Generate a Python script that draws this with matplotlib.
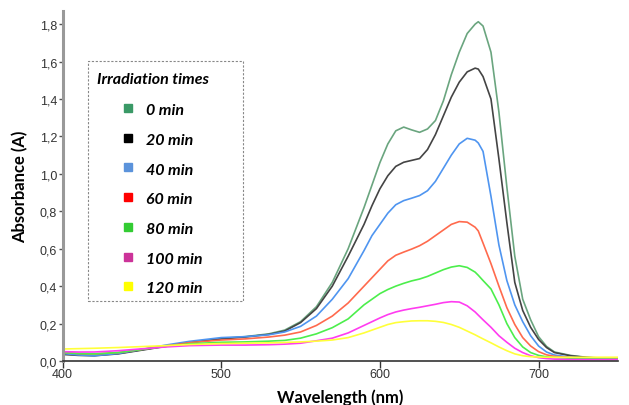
"""
UV-Vis absorbance spectra at increasing irradiation times
"""
import matplotlib
matplotlib.use("Agg")
import matplotlib.pyplot as plt
from matplotlib.ticker import FuncFormatter, MultipleLocator
from matplotlib.patches import Rectangle

# wavelength grid (nm) shared by all spectra
wavelength = [400, 410, 420, 435, 450, 465, 480, 500, 515, 530, 540, 550, 560, 570,
              580, 590, 595, 600, 605, 610, 615, 620, 625, 630, 635, 640, 645, 650,
              655, 660, 662, 665, 670, 675, 680, 685, 690, 695, 700, 705, 710, 720, 730,
              740, 750]

abs_0 = [0.040, 0.033, 0.030, 0.040, 0.060, 0.080, 0.100, 0.120, 0.130, 0.145, 0.165,
         0.210, 0.290, 0.420, 0.600, 0.820, 0.940, 1.060, 1.160, 1.230, 1.250, 1.235,
         1.222, 1.240, 1.285, 1.390, 1.530, 1.650, 1.750, 1.800, 1.813, 1.790, 1.650, 1.330,
         0.930, 0.560, 0.330, 0.220, 0.130, 0.078, 0.048, 0.030, 0.020, 0.015, 0.012]
abs_20 = [0.035, 0.030, 0.028, 0.038, 0.058, 0.078, 0.098, 0.118, 0.128, 0.142, 0.160,
          0.205, 0.280, 0.400, 0.560, 0.730, 0.830, 0.920, 0.990, 1.040, 1.062, 1.072,
          1.082, 1.130, 1.210, 1.310, 1.410, 1.490, 1.545, 1.565, 1.560, 1.520, 1.400, 1.080,
          0.740, 0.420, 0.270, 0.180, 0.115, 0.072, 0.045, 0.028, 0.019, 0.014, 0.012]
abs_40 = [0.040, 0.032, 0.028, 0.040, 0.062, 0.085, 0.105, 0.125, 0.130, 0.140, 0.155,
          0.185, 0.240, 0.330, 0.440, 0.590, 0.670, 0.730, 0.790, 0.835, 0.857, 0.870,
          0.884, 0.910, 0.960, 1.030, 1.100, 1.160, 1.190, 1.180, 1.165, 1.120, 0.880, 0.620,
          0.430, 0.300, 0.210, 0.135, 0.080, 0.048, 0.032, 0.020, 0.015, 0.012, 0.010]
abs_60 = [0.045, 0.040, 0.038, 0.045, 0.062, 0.080, 0.098, 0.112, 0.118, 0.128, 0.138,
          0.155, 0.190, 0.240, 0.310, 0.400, 0.445, 0.490, 0.535, 0.565, 0.582, 0.598,
          0.616, 0.640, 0.670, 0.700, 0.730, 0.745, 0.742, 0.715, 0.695, 0.630, 0.520, 0.400,
          0.285, 0.195, 0.125, 0.080, 0.050, 0.033, 0.025, 0.018, 0.014, 0.012, 0.010]
abs_80 = [0.045, 0.040, 0.038, 0.045, 0.062, 0.078, 0.092, 0.100, 0.102, 0.106, 0.110,
          0.122, 0.145, 0.178, 0.225, 0.300, 0.330, 0.360, 0.382, 0.400, 0.415, 0.428,
          0.438, 0.452, 0.470, 0.488, 0.502, 0.509, 0.500, 0.475, 0.458, 0.430, 0.385, 0.300,
          0.200, 0.125, 0.075, 0.045, 0.030, 0.022, 0.018, 0.015, 0.013, 0.012, 0.010]
abs_100 = [0.050, 0.048, 0.048, 0.055, 0.065, 0.075, 0.082, 0.085, 0.085, 0.087, 0.090,
           0.095, 0.108, 0.122, 0.150, 0.190, 0.210, 0.230, 0.248, 0.262, 0.272, 0.280,
           0.287, 0.295, 0.303, 0.312, 0.317, 0.315, 0.295, 0.262, 0.245, 0.220, 0.180, 0.135,
           0.100, 0.068, 0.045, 0.028, 0.018, 0.013, 0.010, 0.008, 0.008, 0.008, 0.008]
abs_120 = [0.064, 0.066, 0.068, 0.072, 0.077, 0.082, 0.088, 0.093, 0.095, 0.097, 0.099,
           0.102, 0.106, 0.112, 0.125, 0.150, 0.165, 0.180, 0.195, 0.205, 0.210, 0.214,
           0.215, 0.215, 0.212, 0.206, 0.195, 0.180, 0.160, 0.140, 0.131, 0.118, 0.097, 0.075,
           0.055, 0.038, 0.028, 0.023, 0.021, 0.020, 0.020, 0.020, 0.020, 0.020, 0.020]

labels = ["0 min", "20 min", "40 min", "60 min", "80 min", "100 min", "120 min"]
spectra = [abs_0, abs_20, abs_40, abs_60, abs_80, abs_100, abs_120]

line_colors = ["#6aa57f", "#444444", "#4f95f0", "#ff6a4d", "#4cee4c", "#ff3cf0", "#ffff3a"]
key_colors = ["#3a9966", "#000000", "#5b93db", "#ff0000", "#33cc33", "#cc3399", "#ffff00"]

fig = plt.figure(figsize=(6.29, 4.06), dpi=100)
ax = fig.add_axes([0.0994, 0.1084, 0.883, 0.8628])

for y, c in zip(spectra, line_colors):
    ax.plot(wavelength, y, color=c, lw=1.2, solid_joinstyle="round", solid_capstyle="round")

ax.set_xlim(400, 750)
ax.set_ylim(0, 1.872)
ax.xaxis.set_major_locator(MultipleLocator(100))
ax.yaxis.set_major_locator(MultipleLocator(0.2))
ax.yaxis.set_major_formatter(FuncFormatter(lambda v, p: f"{v:.1f}".replace(".", ",")))

for s in ["top", "right"]:
    ax.spines[s].set_visible(False)
ax.spines["left"].set_color("#999999")
ax.spines["left"].set_linewidth(2.2)
ax.spines["bottom"].set_color("#333333")
ax.spines["bottom"].set_linewidth(1.2)

ax.tick_params(axis="y", direction="out", length=3, width=1, color="#555555",
               labelsize=9, labelcolor="#333333", pad=1)
ax.tick_params(axis="x", direction="out", length=5, width=1, color="#333333",
               labelsize=9, labelcolor="#333333", pad=0)
for t in ax.get_xticklabels() + ax.get_yticklabels():
    t.set_family("Liberation Sans")

ax.set_xlabel("Wavelength (nm)", family="Lato", fontweight="bold", fontsize=12, labelpad=6)
ax.set_ylabel("Absorbance (A)", family="Lato", fontweight="bold", fontsize=12, labelpad=8)

# hand-built legend box
ax.add_patch(Rectangle((0.046, 0.171), 0.279, 0.685, transform=ax.transAxes,
                       fill=False, ec="#888888", lw=0.8, ls=(0, (2, 1.5)), zorder=5))
ax.text(0.062, 0.805, "Irradiation times", transform=ax.transAxes, family="Lato",
        fontweight="bold", style="italic", fontsize=11.5, va="center", ha="left")
for i, (lab, c) in enumerate(zip(labels, key_colors)):
    yy = 0.722 - i * 0.0848
    ax.plot([0.118], [yy], marker="s", ms=6, color=c, mec=c, transform=ax.transAxes,
            clip_on=False)
    ax.text(0.150, yy - 0.006, lab, transform=ax.transAxes, family="Lato",
            fontweight="bold", style="italic", fontsize=11.5, va="center", ha="left")

fig.savefig("out.png", dpi=100)
